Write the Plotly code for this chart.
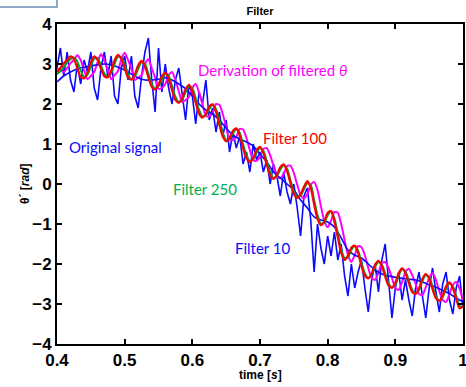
import numpy as np
import plotly.graph_objects as go

# time grids
t_fine = np.round(np.arange(0.400, 1.0001, 0.005), 3)   # 121 samples
t_coarse = np.round(np.arange(0.40, 1.0001, 0.01), 2)   # 61 samples

original_signal = [
    2.9, 3.4, 2.7, 3.3, 2.6, 2.3, 3.0, 2.5, 3.1, 2.8,
    3.3, 2.4, 2.1, 2.9, 3.3, 2.7, 3.2, 2.2, 2.0, 2.9,
    3.2, 2.6, 3.2, 2.2, 1.9, 2.7, 3.3, 3.65, 2.6, 1.8,
    3.4, 2.3, 3.0, 2.4, 2.0, 2.6, 2.9, 2.2, 1.6, 2.5,
    2.2, 1.5, 2.3, 2.0, 2.6, 1.6, 1.9, 1.3, 1.8, 1.2,
    1.6, 0.8, 1.3, 0.9, 1.2, 0.5, 0.8, 0.3, 1.0, 0.6,
    0.8, 0.3, 0.6, 0.0, 0.5, 0.2, -0.3, 0.3, -0.2, -0.5,
    0.0, -0.6, -1.3, -0.3, -0.1, -0.9, -2.2, -1.0, -1.6, -2.0,
    -1.3, -1.8, -1.2, -1.9, -1.5, -2.3, -2.8, -2.0, -2.6, -2.2,
    -1.9, -2.6, -3.2, -2.4, -2.0, -2.7, -1.9, -1.5, -2.5, -3.35,
    -2.6, -2.2, -2.9, -2.4, -2.9, -3.3, -2.6, -2.2, -2.8, -3.35,
    -2.6, -2.1, -2.7, -3.2, -2.5, -2.2, -2.9, -3.25, -2.6, -2.3,
    -3.1,
]

filter_100 = [
    2.80, 2.90, 3.02, 3.10, 3.19, 3.13, 2.89, 2.68, 2.64, 2.79,
    3.04, 3.19, 3.10, 2.88, 2.69, 2.67, 2.83, 3.09, 3.23, 3.13,
    2.90, 2.67, 2.61, 2.74, 2.97, 3.08, 2.94, 2.67, 2.43, 2.36,
    2.48, 2.69, 2.78, 2.63, 2.35, 2.10, 2.03, 2.15, 2.37, 2.47,
    2.33, 2.03, 1.76, 1.66, 1.75, 1.94, 1.99, 1.80, 1.48, 1.19,
    1.07, 1.15, 1.33, 1.39, 1.21, 0.90, 0.64, 0.55, 0.65, 0.85,
    0.93, 0.77, 0.48, 0.22, 0.13, 0.23, 0.42, 0.49, 0.32, 0.02,
    -0.25, -0.35, -0.26, -0.07, 0.07, -0.10, -0.51, -0.87, -1.03, -0.94,
    -0.72, -0.68, -0.94, -1.34, -1.72, -1.90, -1.79, -1.59, -1.54, -1.73,
    -2.05, -2.29, -2.36, -2.24, -2.02, -1.92, -2.05, -2.31, -2.54, -2.60,
    -2.47, -2.23, -2.11, -2.23, -2.48, -2.70, -2.75, -2.61, -2.37, -2.25,
    -2.37, -2.63, -2.86, -2.92, -2.79, -2.56, -2.46, -2.60, -2.87, -3.11,
    -3.05,
]

filter_250 = [
    2.75, 2.82, 2.92, 3.04, 3.12, 3.16, 3.06, 2.84, 2.68, 2.73,
    2.94, 3.13, 3.14, 2.96, 2.76, 2.68, 2.77, 3.00, 3.18, 3.17,
    2.98, 2.74, 2.62, 2.69, 2.88, 3.04, 3.00, 2.76, 2.51, 2.38,
    2.44, 2.61, 2.75, 2.70, 2.45, 2.18, 2.05, 2.11, 2.29, 2.44,
    2.39, 2.14, 1.85, 1.69, 1.72, 1.87, 1.98, 1.87, 1.59, 1.28,
    1.10, 1.12, 1.27, 1.37, 1.28, 0.99, 0.72, 0.57, 0.62, 0.78,
    0.90, 0.83, 0.57, 0.30, 0.15, 0.20, 0.36, 0.47, 0.38, 0.10,
    -0.18, -0.32, -0.29, -0.13, 0.02, -0.03, -0.40, -0.78, -0.99, -0.97,
    -0.78, -0.68, -0.86, -1.24, -1.62, -1.85, -1.83, -1.65, -1.55, -1.67,
    -1.97, -2.23, -2.35, -2.27, -2.08, -1.95, -2.01, -2.24, -2.48, -2.58,
    -2.51, -2.29, -2.14, -2.19, -2.41, -2.65, -2.74, -2.65, -2.43, -2.28,
    -2.33, -2.56, -2.80, -2.91, -2.83, -2.62, -2.49, -2.56, -2.80, -3.05,
    -3.08,
]

derivation_filtered = [
    2.90, 2.85, 2.80, 2.90, 3.02, 3.10, 3.22, 3.10, 2.85, 2.62,
    2.70, 2.80, 3.05, 3.25, 3.08, 2.86, 2.62, 2.72, 2.82, 3.12,
    3.28, 3.10, 2.88, 2.60, 2.66, 2.72, 3.00, 3.12, 2.90, 2.65,
    2.38, 2.40, 2.50, 2.72, 2.80, 2.60, 2.32, 2.05, 2.10, 2.18,
    2.40, 2.50, 2.28, 2.00, 1.70, 1.70, 1.78, 2.00, 1.98, 1.75,
    1.42, 1.12, 1.10, 1.18, 1.38, 1.36, 1.15, 0.85, 0.60, 0.58,
    0.68, 0.88, 0.90, 0.72, 0.45, 0.18, 0.15, 0.25, 0.45, 0.46,
    0.28, -0.02, -0.28, -0.36, -0.25, -0.02, 0.05, -0.15, -0.55, -0.92,
    -1.08, -0.92, -0.70, -0.72, -1.00, -1.40, -1.78, -1.95, -1.78, -1.55,
    -1.58, -1.78, -2.10, -2.35, -2.40, -2.22, -1.98, -1.95, -2.10, -2.35,
    -2.60, -2.65, -2.45, -2.20, -2.12, -2.28, -2.50, -2.75, -2.78, -2.58,
    -2.35, -2.22, -2.40, -2.68, -2.90, -2.95, -2.75, -2.52, -2.45, -2.62,
    -2.90,
]

filter_10 = [
    2.55, 2.70, 2.80, 2.88, 2.92, 2.95, 2.98, 3.00, 2.98, 2.92,
    2.85, 2.75, 2.65, 2.60, 2.60, 2.62, 2.66, 2.60, 2.50, 2.38,
    2.20, 2.00, 1.85, 1.75, 1.60, 1.40, 1.22, 1.12, 1.05, 0.95,
    0.75, 0.55, 0.30, 0.15, 0.00, -0.15, -0.40, -0.60, -0.82, -0.90,
    -0.95, -1.08, -1.35, -1.65, -1.78, -1.85, -2.00, -2.15, -2.25, -2.30,
    -2.33, -2.36, -2.38, -2.40, -2.45, -2.52, -2.58, -2.66, -2.74, -2.85,
    -2.95,
]

x_ticks = [0.4, 0.5, 0.6, 0.7, 0.8, 0.9, 1.0]
x_tick_labels = ["0.4", "0.5", "0.6", "0.7", "0.8", "0.9", "1"]
y_ticks = [-4, -3, -2, -1, 0, 1, 2, 3, 4]
y_tick_labels = ["\u22124", "\u22123", "\u22122", "\u22121", "0", "1", "2", "3", "4"]

BLUE = "#0a0aff"
RED = "#ff0000"
GREEN = "#00a030"
MAGENTA = "#ff00ff"

fig = go.Figure()
fig.add_trace(go.Scatter(x=t_fine, y=original_signal, mode="lines",
                         line=dict(color=BLUE, width=1.6), name="Original signal"))
fig.add_trace(go.Scatter(x=t_fine, y=derivation_filtered, mode="lines",
                         line=dict(color=MAGENTA, width=2, shape="spline", smoothing=0.6),
                         name="Derivation"))
fig.add_trace(go.Scatter(x=t_coarse, y=filter_10, mode="lines",
                         line=dict(color=BLUE, width=1.6, shape="spline", smoothing=0.8),
                         name="Filter 10"))
fig.add_trace(go.Scatter(x=t_fine, y=filter_250, mode="lines",
                         line=dict(color=GREEN, width=2, shape="spline", smoothing=0.8),
                         name="Filter 250"))
fig.add_trace(go.Scatter(x=t_fine, y=filter_100, mode="lines",
                         line=dict(color=RED, width=2.2, shape="spline", smoothing=0.8),
                         name="Filter 100"))

ann_font = "Lato, Carlito, 'Open Sans', sans-serif"
annotations = [
    dict(x=0.718, y=2.85, text="Derivation of filtered <i>\u03b8</i>", color=MAGENTA),
    dict(x=0.751, y=1.15, text="Filter 100", color=RED),
    dict(x=0.486, y=0.93, text="Original signal", color=BLUE),
    dict(x=0.619, y=-0.12, text="Filter 250", color="#00b050"),
    dict(x=0.704, y=-1.6, text="Filter 10", color=BLUE),
]
for a in annotations:
    fig.add_annotation(x=a["x"], y=a["y"], xref="x", yref="y", text=a["text"],
                       showarrow=False, font=dict(family=ann_font, size=15, color=a["color"]))

axis_font = "Liberation Sans, Arial, sans-serif"

# axis titles placed as annotations in pixel-offset paper coordinates
fig.add_annotation(x=0.5, y=0, xref="paper", yref="paper", yshift=-31, yanchor="middle",
                   text="<b>time [<i>s</i>]</b>", showarrow=False,
                   font=dict(family=axis_font, size=12, color="black"))
fig.add_annotation(x=0, y=0.5, xref="paper", yref="paper", xshift=-32, xanchor="center",
                   text="<b>\u03b8\u00b4 [<i>rad</i>]</b>", showarrow=False, textangle=-90,
                   font=dict(family=axis_font, size=12, color="black"))

fig.update_layout(
    width=466, height=387,
    margin=dict(l=57, r=3, t=24, b=43, autoexpand=False),
    paper_bgcolor="white", plot_bgcolor="white",
    showlegend=False,
    title=dict(text="<b>Filter</b>", x=0.5, xref="paper", y=1 - 11 / 387, yanchor="middle",
               font=dict(family=axis_font, size=11, color="black")),
    xaxis=dict(range=[0.4, 1.0], tickvals=x_ticks, ticktext=x_tick_labels,
               ticks="inside", ticklen=5, tickwidth=1.5, tickcolor="black",
               showline=True, linecolor="black", linewidth=2, mirror="ticks",
               showgrid=False, zeroline=False, automargin=False,
               ticklabeloverflow="allow",
               tickfont=dict(family=axis_font, size=17, color="black", weight="bold")),
    yaxis=dict(range=[-4, 4], tickvals=y_ticks, ticktext=y_tick_labels,
               ticks="inside", ticklen=5, tickwidth=1.5, tickcolor="black",
               showline=True, linecolor="black", linewidth=2, mirror="ticks",
               showgrid=False, zeroline=False, automargin=False,
               ticklabeloverflow="allow",
               tickfont=dict(family=axis_font, size=17, color="black", weight="bold")),
)

# small box at the top-left corner of the page
fig.add_shape(type="rect", xref="paper", yref="paper",
              x0=-0.3, x1=0, y0=1 + 17 / 320, y1=1.2,
              line=dict(color="#8fa9c9", width=2), fillcolor="rgba(0,0,0,0)")

fig.write_html("out.html",
               config={"displayModeBar": False},
               post_script="document.body.style.margin='0';document.body.style.overflow='hidden';")
